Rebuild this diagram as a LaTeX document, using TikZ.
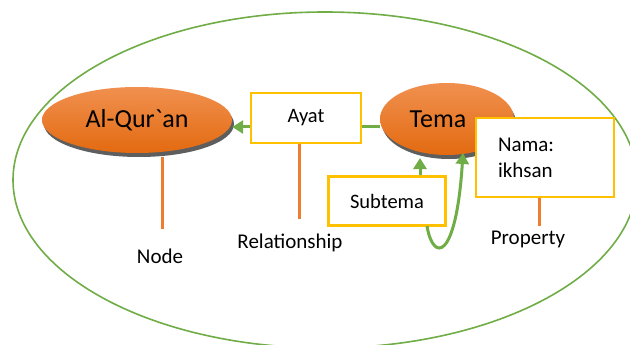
\documentclass[tikz,border=0pt]{standalone}
\usepackage{fontspec}
\setmainfont{Carlito}[Ligatures=TeXOff]
\usetikzlibrary{arrows.meta,shapes.geometric}
\definecolor{frameGreen}{HTML}{70AD47}
\definecolor{boxGold}{HTML}{FFC000}
\definecolor{tagOrange}{HTML}{ED7D31}
\definecolor{orangeTop}{HTML}{F0904F}
\definecolor{orangeBot}{HTML}{E36A10}
\definecolor{shadowGrey}{HTML}{5E5E5E}
\tikzset{
  x=1pt, y=-1pt,
  entity/.style={ellipse, minimum width=#1, top color=orangeTop, bottom color=orangeBot,
     draw=none, inner sep=0pt, font=\fontsize{26}{30}\selectfont},
  shadowblob/.style={ellipse, fill=shadowGrey, draw=none, inner sep=0pt},
  tagbox/.style={draw=boxGold, line width=2.2pt, fill=white, inner sep=0pt,
     font=\fontsize{20.5}{25}\selectfont},
  caption/.style={font=\fontsize{21}{25}\selectfont, inner sep=0pt},
  rel/.style={draw=frameGreen, line width=3pt, -{Triangle[length=11pt,width=13pt]}},
  link/.style={draw=frameGreen, line width=3pt},
  pointer/.style={draw=tagOrange, line width=3pt},
}
\begin{document}
\begin{tikzpicture}
\useasboundingbox (0,0) rectangle (630,345);
\clip (0,0) rectangle (630,345);
\fill[white] (0,0) rectangle (630,345);

% outer boundary of the graph
\draw[frameGreen, line width=1.6pt] (325,180) ellipse (312pt and 168pt);

% shadows under the entity ellipses
\node[shadowblob, minimum width=190pt, minimum height=66pt] at (139,124) {};
\node[shadowblob, minimum width=134pt, minimum height=72pt] at (449,123) {};

% entities
\node[entity=190pt, minimum height=66pt] (quran) at (137,120) {Al-Qur`an};
\node[entity=134pt, minimum height=72pt, text depth=0pt] (tema) at (447,119) {\hspace*{-18pt}Tema};

% relationship and property boxes
\node[tagbox, minimum width=110pt, minimum height=50pt] (ayat) at (306,118) {Ayat};
\node[tagbox, minimum width=117pt, minimum height=49pt] (subtema) at (387,201) {Subtema};
\node[tagbox, minimum width=138pt, minimum height=79pt, align=left, text width=94pt,
      font=\fontsize{21}{26}\selectfont] (nama) at (545,157.5) {Nama:\\ikhsan};

% captions
\node[caption] (nodeLbl) at (160,256) {Node};
\node[caption] (relLbl) at (290,243) {Relationship};
\node[caption] (propLbl) at (528,239) {Property};

% connectors between entities
\draw[link] (tema.west |- 0,127) -- (ayat.east |- 0,127);
\draw[rel] (ayat.west |- 0,127) -- (quran.east |- 0,127);
\draw[rel] (subtema.north -| 420,0) -- (420,158);
\coordinate (loopEnd) at (463,153);
\draw[rel] (427,226) .. controls (433,262) and (456,262) .. (loopEnd);

% pointers from the labels
\coordinate (nodeTip) at (162,229);
\coordinate (relTip) at (299,219);
\coordinate (propTip) at (539,226);
\draw[pointer] (nodeTip |- 0,157) -- (nodeTip);
\draw[pointer] (relTip |- ayat.south) -- (relTip);
\draw[pointer] (propTip |- nama.south) -- (propTip);
\end{tikzpicture}
\end{document}
